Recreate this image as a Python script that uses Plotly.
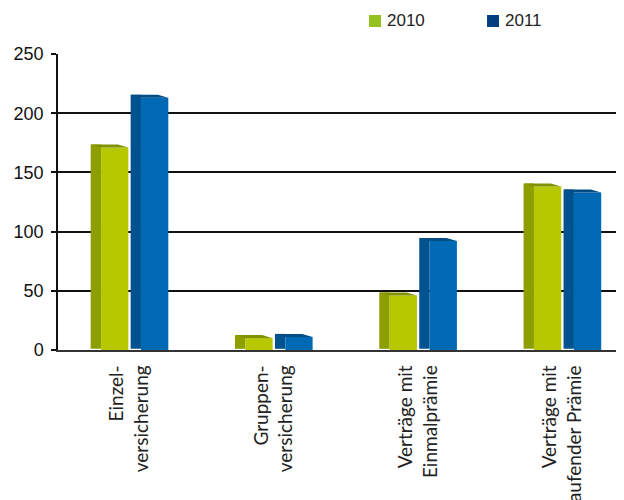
import plotly.graph_objects as go

categories = ["Einzel-<br>versicherung", "Gruppen-<br>versicherung",
              "Verträge mit<br>Einmalprämie", "Verträge mit<br>laufender Prämie"]
series_names = ["2010", "2011"]
values_2010 = [171, 10, 46, 138]
values_2011 = [213, 11, 92, 133]
y_ticks = [0, 50, 100, 150, 200, 250]

# styling
front_colors = ["#b5c800", "#0069b4"]
side_colors = ["#8c9e00", "#00538e"]
top_colors = ["#819200", "#004c85"]
legend_colors = ["#95c11f", "#003f7f"]
side_w = 0.072
front_w = 0.189
starts = [-0.269, 0.008]   # left edge of side face per series (category units)
lift = 2.6                 # depth lift in value units

xs = list(range(len(categories)))
fig = go.Figure()
for s, vals in enumerate([values_2010, values_2011]):
    st = starts[s]
    # side face
    fig.add_trace(go.Bar(x=xs, y=[v + lift - 1 for v in vals], base=[1] * len(vals), width=side_w,
                         offset=st, marker=dict(color=side_colors[s], line=dict(width=0)),
                         showlegend=False, hoverinfo="skip"))
    # front face
    fig.add_trace(go.Bar(x=xs, y=vals, width=front_w, offset=st + side_w,
                         marker=dict(color=front_colors[s], line=dict(width=0)),
                         showlegend=False, hoverinfo="skip"))
    # top faces
    for i, v in enumerate(vals):
        xl = i + st
        xf = xl + side_w
        xr = xf + front_w
        fig.add_trace(go.Scatter(x=[xl, xr - side_w, xr, xf, xl],
                                 y=[v + lift, v + lift, v, v, v + lift],
                                 fill="toself", fillcolor=top_colors[s], mode="lines",
                                 line=dict(width=0, color=top_colors[s]),
                                 showlegend=False, hoverinfo="skip"))

# legend (drawn manually to match the compact original)
legend_font = dict(family="Liberation Sans, Arial", size=17, color="#222")
leg_x = [0.5495, 0.758]
for s in range(2):
    fig.add_shape(type="rect", xref="paper", yref="paper",
                  x0=leg_x[s], x1=leg_x[s] + 0.0212, y0=1.0912, y1=1.1318,
                  fillcolor=legend_colors[s], line=dict(width=0))
    fig.add_annotation(xref="paper", yref="paper", x=leg_x[s] + 0.0275, y=1.1115,
                       xanchor="left", yanchor="middle", text=series_names[s],
                       showarrow=False, font=legend_font)

fig.update_layout(
    width=624, height=500,
    margin=dict(l=50, r=8, t=46, b=158),
    plot_bgcolor="white", paper_bgcolor="white",
    barmode="overlay",
    showlegend=False,
    xaxis=dict(range=[-0.4955, 3.427], tickmode="array", tickvals=xs, ticktext=categories,
               tickangle=-90, showgrid=False, zeroline=False, showline=True,
               linecolor="#333", linewidth=1.5, ticks="", automargin=False,
               ticklabelstandoff=6,
               tickfont=dict(family="Lato", size=19, color="#222")),
    yaxis=dict(range=[0, 250], tickmode="array", tickvals=y_ticks,
               showgrid=True, gridcolor="#111", gridwidth=1.5, zeroline=False,
               showline=True, linecolor="#111", linewidth=1.5,
               ticks="outside", ticklen=5, tickcolor="#111", tickwidth=1.5,
               ticklabelstandoff=4, automargin=False,
               tickfont=dict(family="Liberation Sans, Arial", size=18, color="#111")),
)

fig.write_html("out.html")
